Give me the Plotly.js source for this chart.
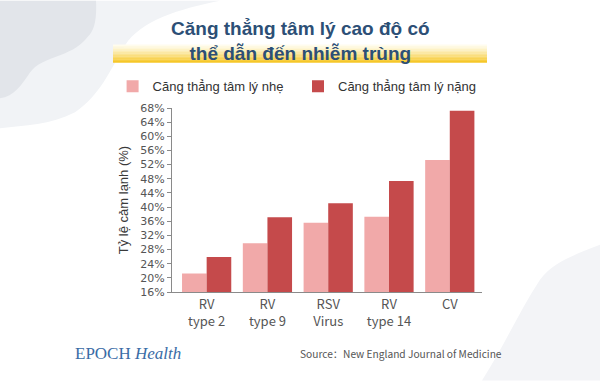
<!DOCTYPE html>
<html>
<head>
<meta charset="utf-8">
<script src="https://cdn.plot.ly/plotly-3.0.1.min.js"></script>
<style>html,body{margin:0;padding:0;background:#fff;}#chart{width:600px;height:381px;}</style>
</head>
<body>
<div id="chart"></div>
<script>
// ---- data ----
const categories = ['RV<br>type 2', 'RV<br>type 9', 'RSV<br>Virus', 'RV<br>type 14', 'CV'];
const mildStress = [21.2, 29.8, 35.6, 37.3, 53.3];
const severeStress = [25.9, 37.1, 41.1, 47.4, 67.2];
const seriesNames = ['Căng thẳng tâm lý nhẹ', 'Căng thẳng tâm lý nặng'];
const yTicks = [16, 20, 24, 28, 32, 36, 40, 44, 48, 52, 56, 60, 64, 68];
const yTickText = yTicks.map(v => v + '%');

// ---- layout helpers (pixel -> paper) ----
const W = 600, H = 381;
const M = {l: 172, r: 118, t: 107.7, b: 88.7};
const PW = W - M.l - M.r, PH = H - M.t - M.b;
const fx = px => (px - M.l) / PW;
const fy = py => (H - M.b - py) / PH;
function pathFrom(pts) {
  return pts.map(seg => seg[0] + seg.slice(1).map((v, i) => (i % 2 === 0 ? fx(v) : fy(v)).toFixed(5)).join(',')).join(' ') + ' Z';
}

const shapes = [];
shapes.push({type: 'path', xref: 'paper', yref: 'paper', layer: 'below', line: {width: 0}, fillcolor: '#f1f3f6',
  path: pathFrom([['M', 0, 0], ['L', 220, 0], ['C', 180, 8, 140, 20, 125, 45], ['C', 110, 70, 100, 95, 75, 112], ['C', 50, 125, 25, 125, 0, 128]])});
shapes.push({type: 'path', xref: 'paper', yref: 'paper', layer: 'below', line: {width: 0}, fillcolor: '#e2e5ea',
  path: pathFrom([['M', 0, 0], ['L', 96, 0], ['C', 97, 20, 94, 30, 88, 36], ['C', 80, 46, 72, 50, 62, 54], ['C', 45, 60, 36, 64, 30, 72], ['C', 22, 84, 14, 96, 0, 98]])});
shapes.push({type: 'path', xref: 'paper', yref: 'paper', layer: 'below', line: {width: 0}, fillcolor: '#f3f4f7',
  path: pathFrom([['M', 600, 245], ['C', 575, 255, 553, 262, 540, 280], ['C', 520, 310, 505, 345, 482, 381], ['L', 600, 381]])});
const bandTop = 44, bandBot = 62, steps = 12;
const c0 = [255, 253, 240], c1 = [245, 196, 30];
for (let i = 0; i < steps; i++) {
  const t = Math.pow((i + 0.5) / steps, 1.3);
  const c = c0.map((v, k) => Math.round(v + (c1[k] - v) * t));
  const y0 = bandTop + (bandBot - bandTop) * i / steps;
  const y1 = bandTop + (bandBot - bandTop) * (i + 1) / steps + 0.3;
  shapes.push({type: 'rect', xref: 'paper', yref: 'paper', layer: 'below', line: {width: 0},
    fillcolor: `rgb(${c[0]},${c[1]},${c[2]})`, x0: fx(113), x1: fx(487), y0: fy(y1), y1: fy(y0)});
}

const traces = [
  {type: 'bar', name: seriesNames[0], x: categories, y: mildStress, marker: {color: '#f1a9a9'}, hoverinfo: 'y'},
  {type: 'bar', name: seriesNames[1], x: categories, y: severeStress, marker: {color: '#c54a4b'}, hoverinfo: 'y'}
];

const layout = {
  width: W, height: H,
  margin: M,
  paper_bgcolor: '#ffffff',
  plot_bgcolor: 'rgba(0,0,0,0)',
  barmode: 'group', bargap: 0.19, bargroupgap: 0,
  showlegend: true,
  legend: {orientation: 'h', x: fx(112.6), xanchor: 'left', y: fy(86), yanchor: 'middle',
    entrywidth: 140.4, entrywidthmode: 'pixels', bgcolor: 'rgba(0,0,0,0)',
    font: {family: 'Liberation Sans, Arial, sans-serif', size: 13, color: '#333333'}},
  xaxis: {type: 'category', range: [-0.57, 4.53], showline: true, linecolor: '#8a8a8a', linewidth: 1,
    ticks: '', showgrid: false, zeroline: false, fixedrange: true,
    tickfont: {family: 'Noto Sans CJK SC, Noto Sans, sans-serif', size: 13, color: '#555555'}},
  yaxis: {range: [16, 68], tickvals: yTicks, ticktext: yTickText, showline: true, linecolor: '#8a8a8a', linewidth: 1,
    ticks: 'outside', ticklen: 4, tickcolor: '#8a8a8a', showgrid: false, zeroline: false, fixedrange: true,
    tickfont: {family: 'DejaVu Sans, sans-serif', size: 11, color: '#555555'},
    title: {text: 'Tỷ lệ cảm lạnh (%)', standoff: 8, font: {family: 'Liberation Sans, Arial, sans-serif', size: 13, color: '#3a3a3a'}}},
  shapes: shapes,
  annotations: [
    {text: '<b>Căng thẳng tâm lý cao độ có<br>thể dẫn đến nhiễm trùng</b>', xref: 'paper', yref: 'paper',
      x: fx(300), y: fy(40), xanchor: 'center', yanchor: 'middle', showarrow: false,
      font: {family: 'Liberation Sans, Arial, sans-serif', size: 19, color: '#2c4f76'}},
    {text: 'EPOCH <i>Health</i>', xref: 'paper', yref: 'paper', x: fx(73), y: fy(354), xanchor: 'left', yanchor: 'middle',
      showarrow: false, font: {family: 'Liberation Serif, Times New Roman, serif', size: 17, color: '#3a6ca6'}},
    {text: 'Source：New England Journal of Medicine', xref: 'paper', yref: 'paper', x: fx(298), y: fy(354), xanchor: 'left', yanchor: 'middle',
      showarrow: false, font: {family: 'Noto Sans CJK SC, sans-serif', size: 10.2, color: '#555555'}}
  ]
};

Plotly.newPlot('chart', traces, layout, {displayModeBar: false, staticPlot: true});
</script>
</body>
</html>
